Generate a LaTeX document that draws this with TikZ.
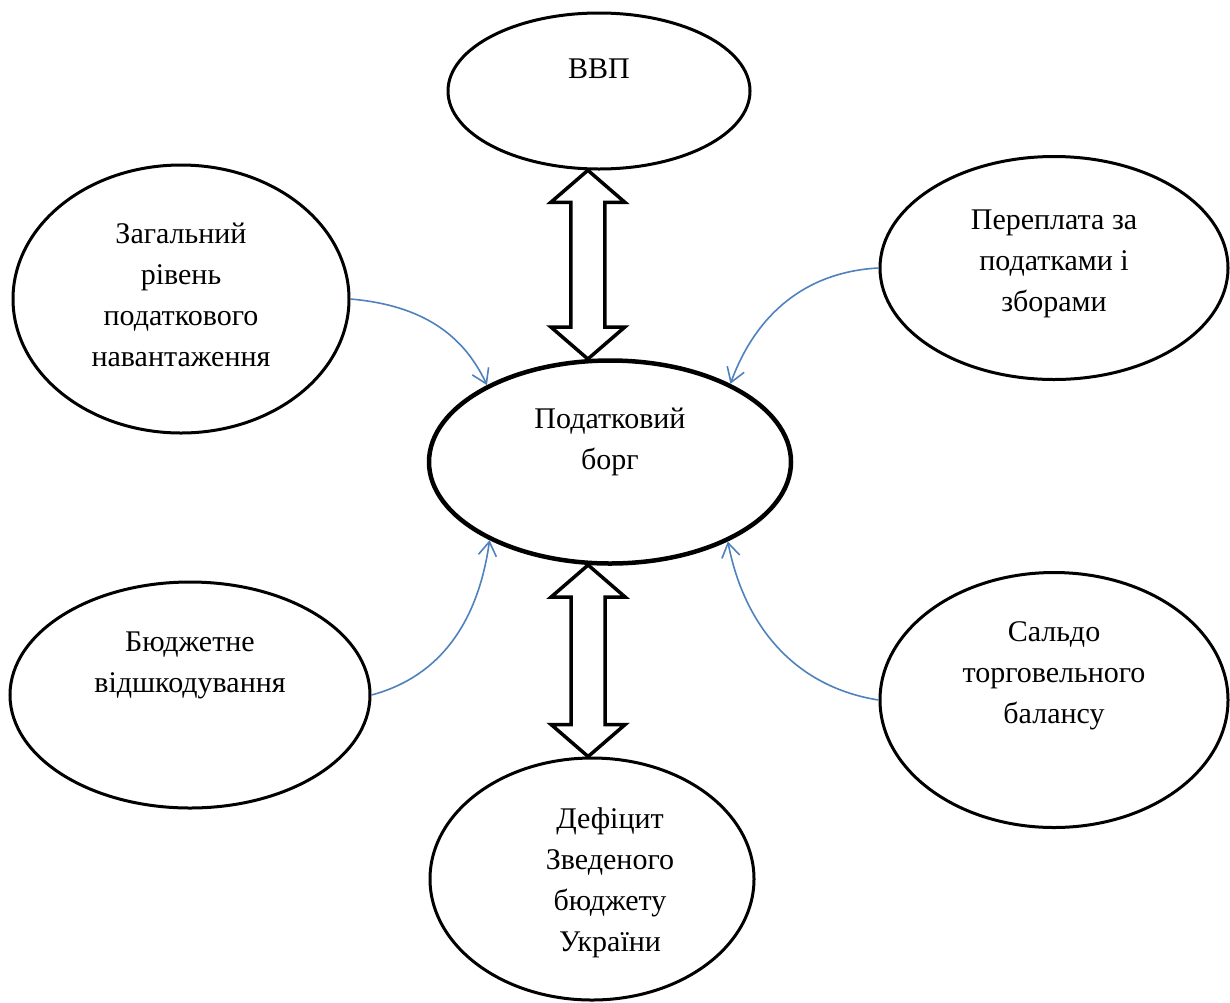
\documentclass[tikz,border=0pt]{standalone}
\usepackage{fontspec}
\setmainfont{Liberation Serif}
\usetikzlibrary{calc,arrows.meta,shapes.geometric}

\definecolor{arrowblue}{RGB}{79,129,189}

% hollow two-headed arrow between two border points
\newcommand{\twoway}[2]{%
  \draw[hollow] let \p1=(#1), \p2=(#2) in
    (\x1,\y1) -- (\x1+37pt,\y1-32pt) -- (\x1+17pt,\y1-32pt) --
    (\x1+17pt,\y2+32pt) -- (\x1+37pt,\y2+32pt) -- (\x1,\y2) --
    (\x1-37pt,\y2+32pt) -- (\x1-17pt,\y2+32pt) --
    (\x1-17pt,\y1-32pt) -- (\x1-37pt,\y1-32pt) -- cycle;}

\begin{document}
\begin{tikzpicture}[x=1pt, y=1pt,
    oval/.style={draw, ellipse, line width=3pt, inner sep=0pt},
    txt/.style={align=center, font=\fontsize{30}{41}\selectfont},
    hollow/.style={draw, line width=3.5pt, fill=white, line join=miter},
    infl/.style={draw=arrowblue, line width=1.6pt, -{Straight Barb[length=14pt, width=18pt]}}]
    \useasboundingbox (0,0) rectangle (1230,-1002);

    \node[oval, minimum width=302pt, minimum height=156pt,
          label={[txt, yshift=22pt]center:ВВП}] (gdp) at (599,-91) {};
    \node[oval, line width=4.5pt, minimum width=362pt, minimum height=203pt,
          label={[txt, yshift=20pt]center:Податковий\\борг}] (debt) at (610,-462) {};
    \node[oval, minimum width=336pt, minimum height=268pt,
          label={[txt, yshift=4pt]center:Загальний\\рівень\\податкового\\навантаження}] (load) at (181,-299) {};
    \node[oval, minimum width=348pt, minimum height=223pt,
          label={[txt, yshift=4pt]center:Переплата за\\податками і\\зборами}] (overpay) at (1054,-268) {};
    \node[oval, minimum width=360pt, minimum height=226pt,
          label={[txt, yshift=30pt]center:Бюджетне\\відшкодування}] (refund) at (190,-695) {};
    \node[oval, minimum width=348pt, minimum height=255pt,
          label={[txt, yshift=24pt]center:Сальдо\\торговельного\\балансу}] (saldo) at (1054,-700) {};
    \node[oval, minimum width=324pt, minimum height=242pt,
          label={[txt, xshift=18pt, yshift=-4pt]center:Дефіцит\\Зведеного\\бюджету\\України}] (deficit) at (592,-879) {};

    \draw[infl] (load.east) to[out=-5, in=115] (debt.148);
    \draw[infl] (overpay.west) to[out=183, in=70] (debt.33);
    \draw[infl] (refund.east) to[out=15, in=-98] (debt.213);
    \draw[infl] (saldo.west) to[out=171, in=-79] (debt.-34);

    \twoway{gdp.-98}{debt.102}
    \twoway{debt.258}{deficit.92}
\end{tikzpicture}
\end{document}
